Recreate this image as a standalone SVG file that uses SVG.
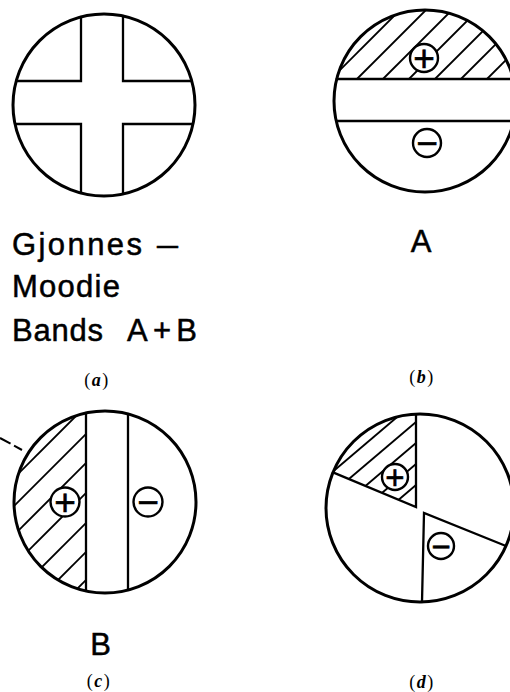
<svg xmlns="http://www.w3.org/2000/svg" width="510" height="692" viewBox="0 0 510 692">
<style>
.outer{fill:none;stroke:#000;stroke-width:3}
.ln{fill:none;stroke:#000;stroke-width:2.3;stroke-linecap:round}
.hatch{stroke:#000;stroke-width:1.9;fill:none}
.sym{fill:#fff;stroke:#000;stroke-width:2.4}
.sign{font-family:"Liberation Sans",Arial,sans-serif;font-size:37px;text-anchor:middle;fill:#000;stroke:#000;stroke-width:0.6}
.signs{font-family:"Liberation Sans",Arial,sans-serif;font-size:33px;text-anchor:middle;fill:#000;stroke:#000;stroke-width:0.6}
.lbl{font-family:"Liberation Sans",Arial,sans-serif;font-size:31px;fill:#000;stroke:#000;stroke-width:0.5}
.cap{font-family:"Liberation Serif","Times New Roman",serif;font-size:18px;text-anchor:middle;fill:#000;letter-spacing:1.5px}
.dash{fill:none;stroke:#000;stroke-width:2;stroke-dasharray:12 4}
</style>
<defs>
<clipPath id="clipB"><path d="M336.7,79 A91,91 0 0 1 513.3,79 Z"/></clipPath>
<clipPath id="clipC"><path d="M86,591 A91,91 0 0 1 86,413 Z"/></clipPath>
<clipPath id="clipD"><path d="M416,507 L333,472.4 A94,94 0 0 1 416,414.1 Z"/></clipPath>
</defs>

<g id="panel-a">
<circle class="outer" cx="104" cy="105" r="91"/>
<path class="ln" d="M81,17 V81 H16.2 M123,16 V81 H191.8 M81,193 V124 H15 M123,194 V124 H193"/>
<text class="lbl" x="12" y="255" textLength="130" lengthAdjust="spacing">Gjonnes</text>
<text class="lbl" x="157" y="255" textLength="21" lengthAdjust="spacingAndGlyphs">–</text>
<text class="lbl" x="12" y="297" textLength="108" lengthAdjust="spacing">Moodie</text>
<text class="lbl" x="12" y="341" textLength="91" lengthAdjust="spacing">Bands</text>
<text class="lbl" x="127" y="341" textLength="70" lengthAdjust="spacing">A+B</text>
<text class="cap" x="97" y="386">(<tspan font-style="italic" font-weight="bold">a</tspan>)</text>
</g>

<g id="panel-b">
<g clip-path="url(#clipB)" class="hatch">
<line x1="331" y1="79" x2="431" y2="-21"/>
<line x1="357" y1="79" x2="457" y2="-21"/>
<line x1="383" y1="79" x2="483" y2="-21"/>
<line x1="409" y1="79" x2="509" y2="-21"/>
<line x1="435" y1="79" x2="535" y2="-21"/>
<line x1="461" y1="79" x2="561" y2="-21"/>
<line x1="487" y1="79" x2="587" y2="-21"/>
<line x1="513" y1="79" x2="613" y2="-21"/>
</g>
<circle class="outer" cx="425" cy="101" r="91"/>
<path class="ln" d="M336.7,79 H513.3 M336.2,121 H513.8"/>
<circle class="sym" cx="424" cy="58" r="14"/>
<text class="sign" x="424" y="71">+</text>
<circle class="sym" cx="427" cy="143" r="14"/>
<text class="sign" x="427" y="156">−</text>
<text class="lbl" x="421" y="252" text-anchor="middle">A</text>
<text class="cap" x="422" y="383">(<tspan font-style="italic" font-weight="bold">b</tspan>)</text>
</g>

<g id="panel-c">
<g clip-path="url(#clipC)" class="hatch">
<line x1="-128" y1="620" x2="92" y2="400"/>
<line x1="-100" y1="620" x2="120" y2="400"/>
<line x1="-71" y1="620" x2="149" y2="400"/>
<line x1="-41" y1="620" x2="179" y2="400"/>
<line x1="-11" y1="620" x2="209" y2="400"/>
<line x1="18" y1="620" x2="238" y2="400"/>
<line x1="46" y1="620" x2="266" y2="400"/>
</g>
<circle class="outer" cx="105" cy="502" r="91"/>
<path class="ln" d="M86,413 V591 M128,414 V590"/>
<circle class="sym" cx="65" cy="502" r="14.5"/>
<text class="sign" x="65" y="515">+</text>
<circle class="sym" cx="148" cy="502" r="14.5"/>
<text class="sign" x="148" y="515">−</text>
<text class="lbl" x="100.5" y="655" text-anchor="middle">B</text>
<text class="cap" x="99" y="687">(<tspan font-style="italic" font-weight="bold">c</tspan>)</text>
</g>

<g id="panel-d">
<g clip-path="url(#clipD)" class="hatch">
<line x1="320" y1="482.6" x2="420" y2="397.6"/>
<line x1="320" y1="503.6" x2="420" y2="418.6"/>
<line x1="320" y1="524.6" x2="420" y2="439.6"/>
<line x1="320" y1="545.6" x2="420" y2="460.6"/>
<line x1="320" y1="566.6" x2="420" y2="481.6"/>
<line x1="320" y1="587.6" x2="420" y2="502.6"/>
</g>
<circle class="outer" cx="420" cy="508" r="94"/>
<path class="ln" d="M333,472.4 L416,507 V414.1 M506,546 L424,513 L422,602"/>
<circle class="sym" cx="395" cy="477" r="13"/>
<text class="signs" x="395" y="488.5">+</text>
<circle class="sym" cx="441" cy="546" r="13"/>
<text class="signs" x="441" y="557.5">−</text>
<text class="cap" x="422" y="688">(<tspan font-style="italic" font-weight="bold">d</tspan>)</text>
</g>

<g id="connectors">
<line class="dash" x1="0" y1="438" x2="22" y2="450"/>
</g>
</svg>
